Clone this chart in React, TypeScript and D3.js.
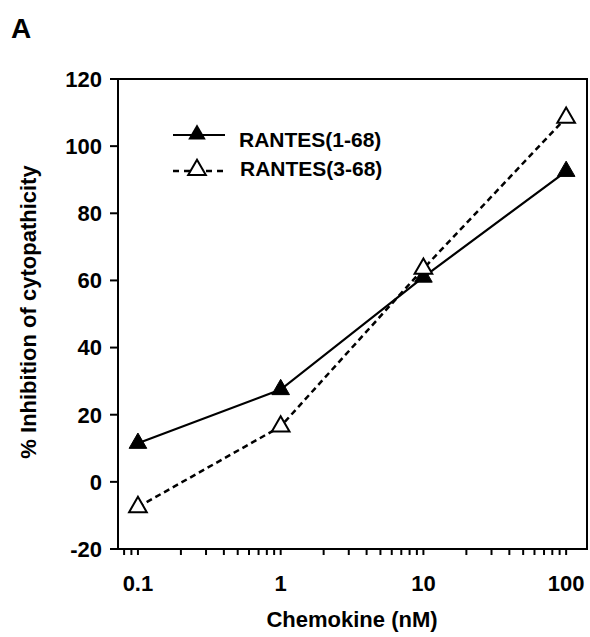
import React from "react";
import * as d3 from "d3";

const concentrations = [0.1, 1, 10, 100];
const rantes168 = [11.5, 27.5, 61, 92.5];
const rantes368 = [-7.5, 16.5, 63.5, 108.5];
const yTicks = [-20, 0, 20, 40, 60, 80, 100, 120];
const xMajorTicks = [0.1, 1, 10, 100];
const xMinorTicks = [0.08, 0.09, 0.2, 0.3, 0.4, 0.5, 0.6, 0.7, 0.8, 0.9, 2, 3, 4, 5, 6, 7, 8, 9, 20, 30, 40, 50, 60, 70, 80, 90];
const seriesNames = ["RANTES(1-68)", "RANTES(3-68)"];

const FONT = "'Liberation Sans', Arial, Helvetica, sans-serif";

export default function App() {
  const left = 118, right = 587, top = 79, bottom = 549;
  const x = d3.scaleLog().domain([0.0725, 140]).range([left, right]);
  const y = d3.scaleLinear().domain([-20, 120]).range([bottom, top]);
  const line = d3.line<[number, number]>().x(d => x(d[0])).y(d => y(d[1]));
  const tri = d3.symbol().type(d3.symbolTriangle).size(135)();
  const d1 = concentrations.map((c, i) => [c, rantes168[i]] as [number, number]);
  const d2 = concentrations.map((c, i) => [c, rantes368[i]] as [number, number]);

  return (
    <svg width={590} height={637} style={{ position: "absolute", left: 0, top: 0, background: "#fff" }} fontFamily={FONT} fontWeight="bold">
      <rect width={590} height={637} fill="#fff" />
      <text x={11} y={38} fontSize={28}>A</text>

      {/* frame */}
      <rect x={left} y={top} width={right - left} height={bottom - top} fill="none" stroke="#000" strokeWidth={2} />

      {/* y ticks */}
      {yTicks.map(t => (
        <g key={t}>
          <line x1={left - 8} x2={left} y1={y(t)} y2={y(t)} stroke="#000" strokeWidth={2} />
          <text x={102} y={y(t)} dy="0.36em" textAnchor="end" fontSize={22}>{t}</text>
        </g>
      ))}

      {/* x ticks */}
      {xMajorTicks.concat(xMinorTicks).map(t => (
        <line key={t} x1={x(t)} x2={x(t)} y1={bottom} y2={bottom + 6} stroke="#000" strokeWidth={2} />
      ))}
      {xMajorTicks.map(t => (
        <text key={t} x={x(t)} y={591} textAnchor="middle" fontSize={22}>{String(t)}</text>
      ))}

      <text x={352} y={627} textAnchor="middle" fontSize={22}>Chemokine (nM)</text>
      <text transform="translate(36,312) rotate(-90)" textAnchor="middle" fontSize={22}>% Inhibition of cytopathicity</text>

      {/* series */}
      <path d={line(d2) || ""} fill="none" stroke="#000" strokeWidth={2.5} strokeDasharray="6,4" />
      <path d={line(d1) || ""} fill="none" stroke="#000" strokeWidth={2.2} />
      {d1.map((p, i) => (
        <path key={"a" + i} d={tri || ""} transform={`translate(${x(p[0])},${y(p[1])})`} fill="#000" stroke="#000" strokeWidth={1} />
      ))}
      {d2.map((p, i) => (
        <path key={"b" + i} d={tri || ""} transform={`translate(${x(p[0])},${y(p[1])})`} fill="#fff" stroke="#000" strokeWidth={2} />
      ))}

      {/* legend */}
      <line x1={173} x2={225} y1={135} y2={135} stroke="#000" strokeWidth={2.2} />
      <path d={tri || ""} transform="translate(197,134.5)" fill="#000" />
      <text x={239} y={147} fontSize={21}>{seriesNames[0]}</text>
      <line x1={173} x2={225} y1={171} y2={171} stroke="#000" strokeWidth={2.5} strokeDasharray="6,5" />
      <path d={tri || ""} transform="translate(197,170)" fill="#fff" stroke="#000" strokeWidth={2} />
      <text x={240} y={176} fontSize={21}>{seriesNames[1]}</text>
    </svg>
  );
}
